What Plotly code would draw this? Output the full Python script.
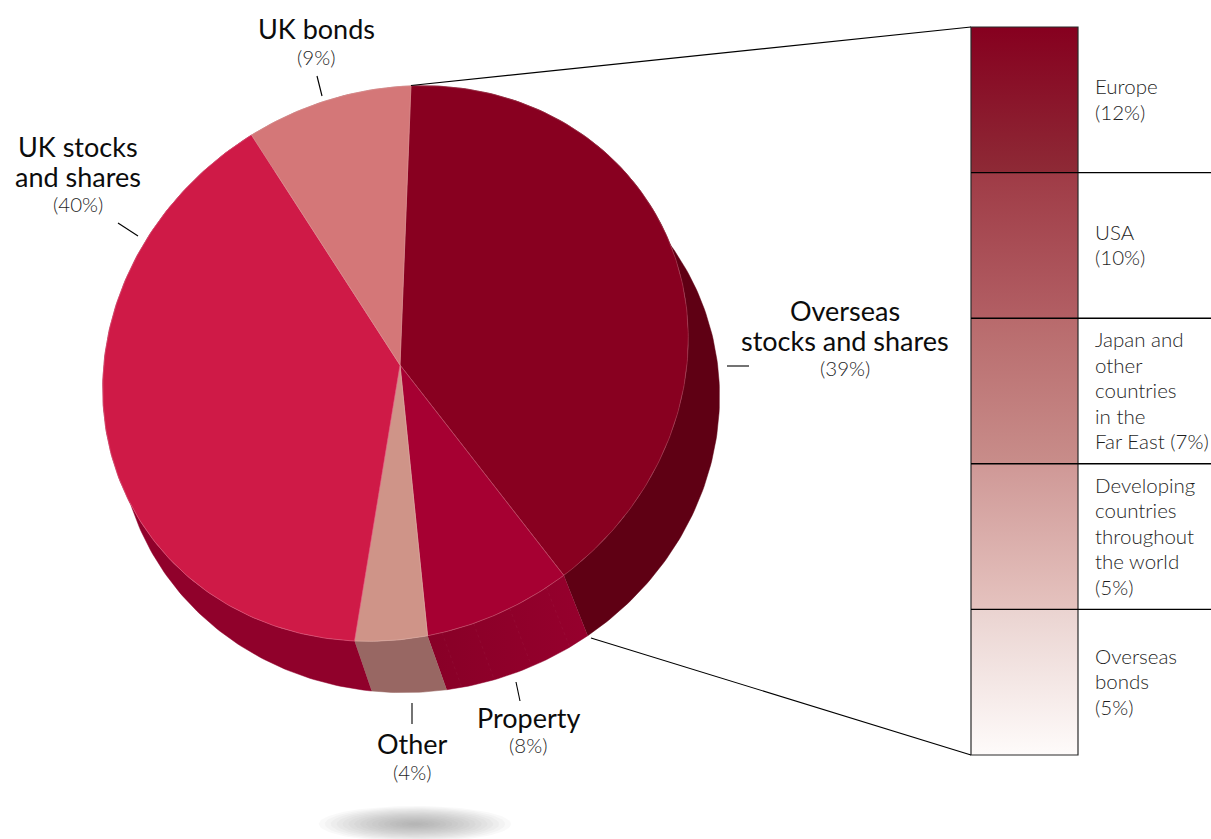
import numpy as np
import plotly.graph_objects as go

# Asset allocation shares, clockwise from the top of the pie
slice_names = ["Overseas stocks and shares", "Property", "Other", "UK stocks and shares", "UK bonds"]
slice_shares = [39, 8, 4, 40, 9]
face_colors = ["#880020", "#a60032", "#cf9488", "#cf1a47", "#d47778"]
wall_colors = ["#5f0014", "#8e002a", "#986763", "#90012b", "#a85a5c"]
edge_colors = ["#a33a50", "#c4506c", "#dcaaa0", "#e05a7c", "#dc9090"]

# Breakdown of the overseas slice
region_lines = [
    ["Europe"],
    ["USA"],
    ["Japan and", "other", "countries", "in the", "Far East"],
    ["Developing", "countries", "throughout", "the world"],
    ["Overseas", "bonds"],
]
region_shares = [12, 10, 7, 5, 5]
region_grad_top = ["#86001f", "#9f3b46", "#b86a6c", "#cf9896", "#ead3d0"]
region_grad_bottom = ["#8e2a36", "#b25f64", "#c88d8a", "#e5c3bf", "#fefbfa"]

W, H = 1211, 839
TITLE_FONT = dict(family="Lato", size=27, color="#0c0c0c")
SMALL_FONT = dict(family="Lato", size=20.5, color="#1f1f1f", weight=300)

# Projected disc: top face and the lower rim
TOP = dict(cx=395.5, cy=363.5, a=300, b=270, tilt=np.radians(30))
BOTTOM = dict(cx=419, cy=411, a=303, b=279, tilt=np.radians(19))
APEX = (400, 365)
START_DEG = -58.8
BOTTOM_LAG_DEG = -8.9
# Slight foreshortening of the disc angle under the tilted projection
WARP_DEG, WARP_PHASE = 0.8, 5.0


def rim(deg, e):
    """Point on a tilted ellipse for the disc angle deg (clockwise, screen coordinates)."""
    deg = np.asarray(deg, dtype=float)
    t = np.radians(deg + WARP_DEG * np.sin(np.radians(deg - WARP_PHASE)))
    c, s = np.cos(e["tilt"]), np.sin(e["tilt"])
    p, q = e["a"] * np.cos(t), e["b"] * np.sin(t)
    return e["cx"] + p * c + q * s, e["cy"] - p * s + q * c


fig = go.Figure()

# Ground shadow, built from stacked translucent ellipses
sh_t = np.linspace(0, 2 * np.pi, 90)
for k in np.linspace(1, 0.08, 16):
    fig.add_trace(go.Scatter(
        x=415 + 96 * k * np.cos(sh_t), y=824 + 18 * k * np.sin(sh_t),
        mode="lines", line=dict(width=0), fill="toself",
        fillcolor="rgba(130,134,138,0.046)", hoverinfo="skip"))

edges = START_DEG + np.cumsum([0] + slice_shares) * 3.6

# Side walls go down first so the faces cover their hidden parts
for i, share in enumerate(slice_shares):
    ts = np.linspace(edges[i], edges[i + 1], 4 + int(share * 4))
    tx, ty = rim(ts, TOP)
    bx, by = rim(ts[::-1] + BOTTOM_LAG_DEG, BOTTOM)
    if slice_names[i] == "Property":
        extra = dict(fillgradient=dict(type="horizontal",
                                       colorscale=[[0, "#880027"], [1, "#96002d"]]))
    else:
        extra = dict(fillcolor=wall_colors[i])
    fig.add_trace(go.Scatter(
        x=np.r_[tx, bx], y=np.r_[ty, by], mode="lines", fill="toself",
        line=dict(width=0.5, color=wall_colors[i]), hoverinfo="skip", **extra))

# Faint facet seams across the property wall
prop = slice_names.index("Property")
for f in (0.14, 0.42, 0.68, 0.9):
    d = edges[prop] + f * (edges[prop + 1] - edges[prop])
    x0, y0 = rim(d, TOP)
    x1, y1 = rim(d + BOTTOM_LAG_DEG, BOTTOM)
    fig.add_trace(go.Scatter(
        x=[float(x0), float(x1)], y=[float(y0), float(y1)], mode="lines",
        line=dict(width=0.5, color="rgba(255,255,255,0.07)", dash="dot"), hoverinfo="skip"))

# Top faces
for i, share in enumerate(slice_shares):
    ts = np.linspace(edges[i], edges[i + 1], 4 + int(share * 4))
    tx, ty = rim(ts, TOP)
    fig.add_trace(go.Scatter(
        x=np.r_[APEX[0], tx, APEX[0]], y=np.r_[APEX[1], ty, APEX[1]],
        mode="lines", fill="toself", fillcolor=face_colors[i],
        line=dict(width=0.7, color=edge_colors[i]), hoverinfo="skip"))

# Breakdown column: five equal cells, each with its own vertical gradient
COL_L, COL_R, COL_T, COL_B = 971, 1078, 27, 755
cell_h = (COL_B - COL_T) / len(region_lines)
for i in range(len(region_lines)):
    y0, y1 = COL_T + i * cell_h, COL_T + (i + 1) * cell_h
    fig.add_trace(go.Scatter(
        x=[COL_L, COL_R, COL_R, COL_L, COL_L], y=[y0, y0, y1, y1, y0],
        mode="lines", line=dict(width=0), fill="toself", hoverinfo="skip",
        fillgradient=dict(type="vertical", start=y0, stop=y1,
                          colorscale=[[0, region_grad_top[i]], [1, region_grad_bottom[i]]])))

shapes = [dict(type="rect", x0=COL_L, x1=COL_R, y0=COL_T, y1=COL_B,
               line=dict(color="#2a2a2a", width=1.2))]
for i in range(1, len(region_lines)):
    y = COL_T + i * cell_h
    shapes.append(dict(type="line", x0=COL_L, x1=W, y0=y, y1=y, line=dict(color="#000000", width=1.4)))


def seg(x0, y0, x1, y1, width=1.1):
    shapes.append(dict(type="line", x0=x0, y0=y0, x1=x1, y1=y1, line=dict(color="#000000", width=width)))


# Connectors from the overseas slice to the column
seg(411, 85.5, COL_L, 27)
seg(591, 638, COL_L, COL_B)

# Leader ticks beside each label
seg(118, 223, 138, 236)
seg(317, 76, 322, 96)
seg(727, 366, 749, 366)
seg(412, 703, 412, 724)
seg(516, 682, 520, 701)

annotations = []


def text(x, y, s, font, anchor="center"):
    annotations.append(dict(x=x, y=y, text=s, showarrow=False, font=font,
                            xanchor=anchor, yanchor="middle", xref="x", yref="y"))


def pct(v):
    return f"({v}%)"


# Slice labels
text(316, 28.5, "UK bonds", TITLE_FONT)
text(316, 57, pct(slice_shares[4]), SMALL_FONT)
text(78, 146, "UK stocks", TITLE_FONT)
text(78, 176, "and shares", TITLE_FONT)
text(78, 204, pct(slice_shares[3]), SMALL_FONT)
text(845, 310.5, "Overseas", TITLE_FONT)
text(845, 340.5, "stocks and shares", TITLE_FONT)
text(845, 368, pct(slice_shares[0]), SMALL_FONT)
text(412, 743.5, "Other", TITLE_FONT)
text(412, 772, pct(slice_shares[2]), SMALL_FONT)
text(528, 717.5, "Property", TITLE_FONT)
text(528, 745, pct(slice_shares[1]), SMALL_FONT)

# Column labels
LINE_STEP = 25.5
for i, lines in enumerate(region_lines):
    if i == 2:
        rows = lines[:-1] + [f"{lines[-1]} {pct(region_shares[i])}"]
    else:
        rows = lines + [pct(region_shares[i])]
    mid = COL_T + (i + 0.5) * cell_h - 1
    y_first = mid - (len(rows) - 1) * LINE_STEP / 2
    for j, row in enumerate(rows):
        text(1093.3, y_first + j * LINE_STEP, row, SMALL_FONT, anchor="left")

fig.update_layout(
    width=W, height=H, margin=dict(l=0, r=0, t=0, b=0), showlegend=False,
    paper_bgcolor="white", plot_bgcolor="white",
    xaxis=dict(range=[0, W], visible=False, fixedrange=True),
    yaxis=dict(range=[H, 0], visible=False, fixedrange=True),
    shapes=shapes, annotations=annotations,
)
fig.write_html("out.html", config=dict(displayModeBar=False))
